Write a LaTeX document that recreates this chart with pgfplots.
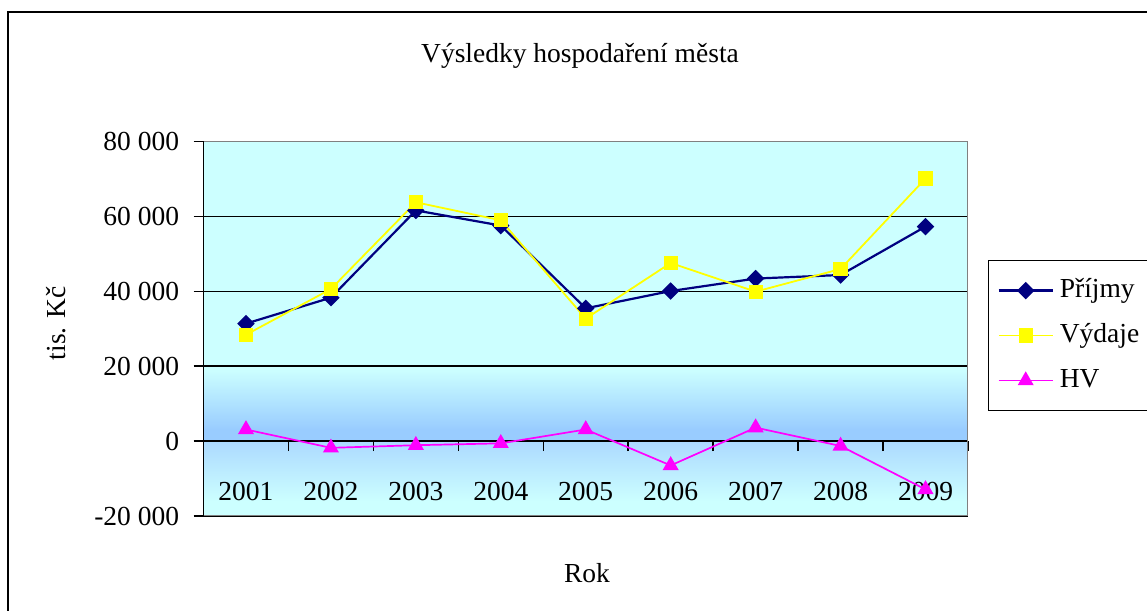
\documentclass[border=0pt]{standalone}
\usepackage{fontspec}
\setmainfont{Liberation Serif}
\usepackage{pgfplots}
\pgfplotsset{compat=1.18}
\definecolor{cyanbg}{HTML}{CCFFFF}
\definecolor{bluebg}{HTML}{99CCFF}
\definecolor{lightbluebg}{HTML}{ACD9FF}
\definecolor{navyline}{HTML}{000080}
\definecolor{yel}{HTML}{FFFF00}
\definecolor{mag}{HTML}{FF00FF}
\definecolor{bordergray}{HTML}{808080}
\begin{document}
\begin{tikzpicture}[font=\fontsize{13.75bp}{16bp}\selectfont]
\draw[line width=0.75bp] (4bp,-20bp) rectangle (620bp,299.5bp);
\begin{axis}[
  at={(101.75bp,47.5bp)}, anchor=south west,
  scale only axis, width=382.25bp, height=187.25bp,
  set layers,
  xmin=0.5, xmax=9.5, ymin=-20000, ymax=80000,
  scaled y ticks=false,
  axis x line=middle, axis y line=left,
  axis line style={-, black, line width=0.75bp},
  axis background/.style={fill=cyanbg},
  xtick={1,2,3,4,5,6,7,8,9},
  xticklabels={2001,2002,2003,2004,2005,2006,2007,2008,2009},
  minor xtick={1.5,2.5,3.5,4.5,5.5,6.5,7.5,8.5,9.5},
  major x tick style={draw=none},
  minor x tick style={black, line width=0.75bp},
  minor tick length=5bp,
  major tick length=5bp,
  xtick align=outside, ytick align=outside,
  ytick={-20000,0,20000,40000,60000,80000},
  yticklabels={-20 000,0,20 000,40 000,60 000,80 000},
  y tick style={black, line width=0.75bp},
  ymajorgrids, grid style={black, line width=0.75bp},
  xticklabel style={anchor=base, yshift=-24.8bp},
  yticklabel style={anchor=east, xshift=-3.7bp},
  legend entries={Příjmy,Výdaje,HV},
  legend cell align=left,
  legend style={at={(1.026,0.684)}, anchor=north west, draw=black, line width=0.75bp, fill=white,
    inner ysep=5.5bp, inner xsep=4.5bp,
    row sep=3.5bp, nodes={inner sep=3bp, text height=10bp, text depth=3bp}},
  legend image code/.code={\draw[mark repeat=2,mark phase=2] plot coordinates {(0bp,0bp)(13.5bp,0bp)(27bp,0bp)};},
]
\begin{pgfonlayer}{axis background}
\shade[top color=cyanbg, bottom color=bluebg] (axis cs:0.5,19150) rectangle (axis cs:9.5,3100);
\fill[bluebg] (axis cs:0.5,3100) rectangle (axis cs:9.5,0);
\shade[top color=lightbluebg, bottom color=cyanbg] (axis cs:0.5,0) rectangle (axis cs:9.5,-16000);
\end{pgfonlayer}
\addplot[navyline, line width=1.1bp, mark=diamond*, mark size=3.6bp, mark options={xscale=1.33}] coordinates {
(1,31370) (2,38300) (3,61600) (4,57550) (5,35450) (6,40070) (7,43400) (8,44350) (9,57280)};
\addplot[yel, line width=0.9bp, mark=square*, mark size=3.1bp] coordinates {
(1,28400) (2,40600) (3,63770) (4,58960) (5,32700) (6,47560) (7,39900) (8,45950) (9,70100)};
\addplot[mag, line width=0.85bp, mark=triangle*, mark size=3.8bp] coordinates {
(1,3100) (2,-1800) (3,-1100) (4,-600) (5,3100) (6,-6500) (7,3600) (8,-1300) (9,-12900)};
\draw[bordergray, line width=1bp] (rel axis cs:0,0) -- (rel axis cs:1,0) -- (rel axis cs:1,1) -- (rel axis cs:0,1);
\end{axis}
\node[anchor=base] at (290bp,274bp) {Výsledky hospodaření města};
\node[rotate=90] at (28bp,144bp) {tis. Kč};
\node at (293.5bp,19bp) {Rok};
\pgfresetboundingbox
\useasboundingbox (0,0) rectangle (573.5bp,305.5bp);
\end{tikzpicture}
\end{document}
